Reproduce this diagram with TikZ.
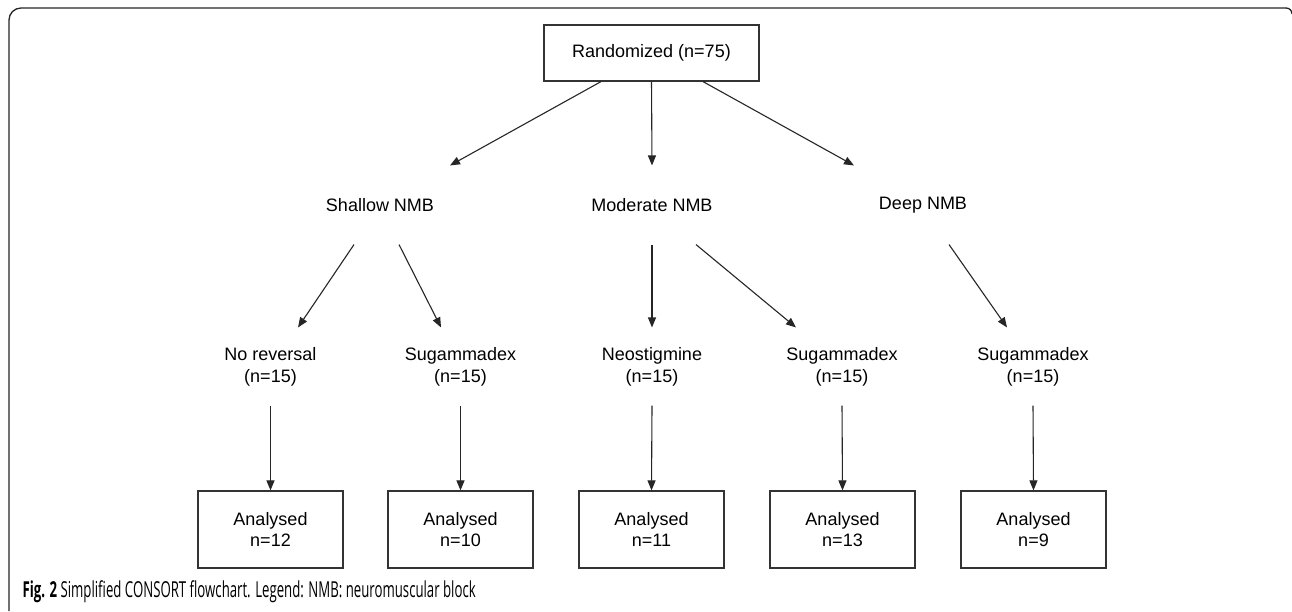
\documentclass[tikz,border=0pt]{standalone}
\usepackage{fontspec}
\setmainfont{Liberation Sans}
\newfontfamily\capfont[FakeStretch=0.60]{Open Sans}
\usetikzlibrary{arrows.meta,positioning}
\begin{document}
\begin{tikzpicture}[x=1pt,y=-1pt,
  line width=1.1pt,
  txt/.style={font=\fontsize{18}{22}\selectfont, inner sep=0pt, align=center, text=black},
  grp/.style={txt, minimum height=78pt},
  sub/.style={txt, minimum height=77pt},
  boxnode/.style={draw=black!80, line width=1.2pt, font=\fontsize{18}{21}\selectfont, align=center, inner sep=0pt, minimum width=145pt, minimum height=77pt},
  arr/.style={draw=black!85, line width=1.1pt, -{Triangle[length=10pt,width=8pt]}}
]
\useasboundingbox (0,0) rectangle (1292,611);
\fill[white] (0,0) rectangle (1292,611);
% frame
\draw[black!85, line width=1.3pt, rounded corners=12pt] (9,611) -- (9,8) -- (1286,8);
\draw[black!85, line width=1.3pt] (1286,8) .. controls (1289.5,8) and (1292,10.5) .. (1292,14);

\node[draw=black!80, line width=1.2pt, font=\fontsize{18}{22}\selectfont, inner sep=0pt, minimum width=215pt, minimum height=56pt] (rand) at (651.5,53) {Randomized (n=75)};

\node[grp] (shallow) at (380,205) {Shallow NMB};
\node[grp] (mod) at (652,205) {Moderate NMB};
\node[grp] (deep) at (923,205) {Deep NMB};

\node[sub] (nr) at (270.5,366.5) {No reversal\\(n=15)};
\node[sub] (s1) at (460.5,366.5) {Sugammadex\\(n=15)};
\node[sub] (neo) at (652,366.5) {Neostigmine\\(n=15)};
\node[sub] (s2) at (842,366.5) {Sugammadex\\(n=15)};
\node[sub] (s3) at (1033,366.5) {Sugammadex\\(n=15)};

\node[boxnode] (a1) at (270.5,529.5) {Analysed\\n=12};
\node[boxnode] (a2) at (460.5,529.5) {Analysed\\n=10};
\node[boxnode] (a3) at (651.5,529.5) {Analysed\\n=11};
\node[boxnode] (a4) at (842.5,529.5) {Analysed\\n=13};
\node[boxnode] (a5) at (1033.5,529.5) {Analysed\\n=9};

% first level
\draw[arr] ([xshift=-50.5pt]rand.south) -- ([xshift=70pt]shallow.north);
\draw[arr] (rand.south) -- (mod.north);
\draw[arr] ([xshift=51.5pt]rand.south) -- ([xshift=-69pt]deep.north);

% second level
\draw[arr] ([xshift=-26pt]shallow.south) -- ([xshift=27.5pt]nr.north);
\draw[arr] ([xshift=19pt]shallow.south) -- ([xshift=-19.5pt]s1.north);
\draw[arr] (mod.south) -- (neo.north);
\draw[arr] ([xshift=44pt]mod.south) -- ([xshift=-46pt]s2.north);
\draw[arr] ([xshift=26pt]deep.south) -- ([xshift=-26pt]s3.north);

% third level
\draw[arr] (nr.south) -- (a1.north);
\draw[arr] (s1.south) -- (a2.north);
\draw[arr] (neo.south) -- (a3.north);
\draw[arr] (s2.south) -- (a4.north);
\draw[arr] (s3.south) -- (a5.north);

\node[anchor=base west, inner sep=0pt, font=\capfont\fontsize{22}{24}\selectfont] (cap) at (22,597) {\textbf{Fig. 2} Simplified CONSORT flowchart. Legend: NMB: neuromuscular block};
\end{tikzpicture}
\end{document}
